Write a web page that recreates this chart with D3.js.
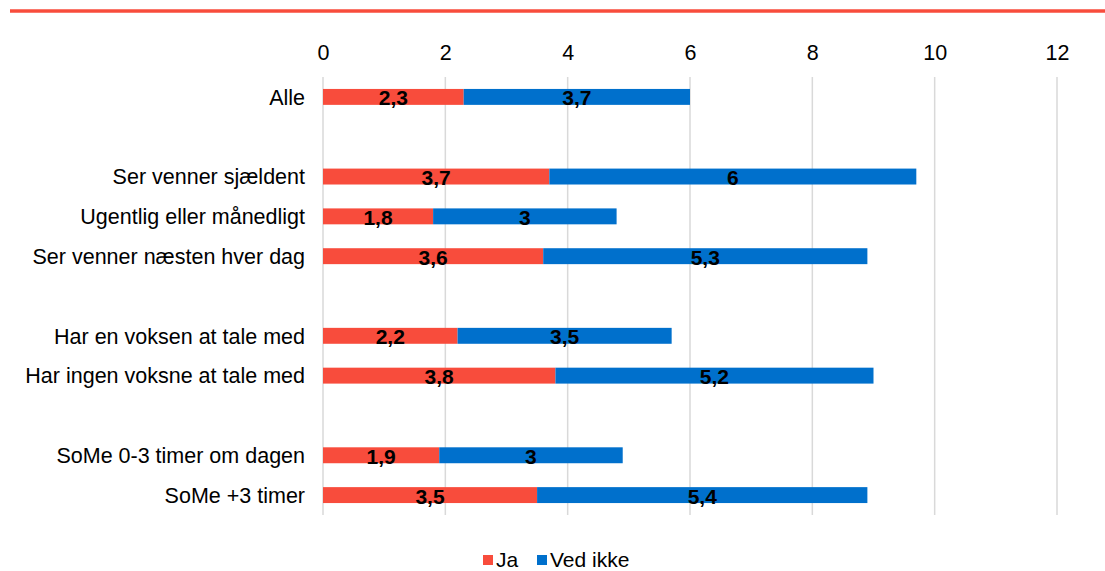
<!DOCTYPE html>
<html>
<head>
<meta charset="utf-8">
<script src="https://cdn.jsdelivr.net/npm/d3@7"></script>
<style>
    body { margin: 0; background: #fff; }
    #chart { width: 1105px; height: 571px; }
    text { font-family: "Liberation Sans", Arial, sans-serif; }
</style>
</head>
<body>
<div id="chart"></div>
<script>

// categories (empty strings are the gaps between groups)
let categories = ["Alle", "", "Ser venner sjældent", "Ugentlig eller månedligt", "Ser venner næsten hver dag", " ",
    "Har en voksen at tale med", "Har ingen voksne at tale med", "  ", "SoMe 0-3 timer om dagen", "SoMe +3 timer"];

// series values
let jaValues = [2.3, null, 3.7, 1.8, 3.6, null, 2.2, 3.8, null, 1.9, 3.5];
let vedIkkeValues = [3.7, null, 6, 3, 5.3, null, 3.5, 5.2, null, 3, 5.4];

let seriesNames = ["Ja", "Ved ikke"];
let tickValues = [0, 2, 4, 6, 8, 10, 12];


class BarVis {

    constructor(parentElement) {
        this.parentElement = parentElement;
        this.colors = ["#f84c3c", "#0070cc"];
        this.initVis();
    }

    initVis() {
        let vis = this;

        vis.width = 1105;
        vis.height = 571;

        vis.svg = d3.select("#" + vis.parentElement).append("svg")
            .attr("width", vis.width)
            .attr("height", vis.height);

        // red rule at the top
        vis.svg.append("line")
            .attr("x1", 10).attr("x2", vis.width)
            .attr("y1", 11).attr("y2", 11)
            .attr("stroke", vis.colors[0])
            .attr("stroke-width", 3.5);

        // scales
        vis.x = d3.scaleLinear()
            .domain([0, 12])
            .range([323, 1057]);

        vis.y = d3.scaleBand()
            .domain(categories)
            .range([77, 515])
            .paddingInner(0.6)
            .paddingOuter(0.3);

        // gridlines
        vis.svg.append("g")
            .selectAll("line")
            .data(tickValues)
            .enter().append("line")
            .attr("x1", d => vis.x(d)).attr("x2", d => vis.x(d))
            .attr("y1", 77).attr("y2", 515)
            .attr("stroke", "#d9d9d9")
            .attr("stroke-width", 1.5);

        // top axis labels
        vis.xAxis = d3.axisTop(vis.x)
            .tickValues(tickValues)
            .tickSize(0)
            .tickPadding(0);

        vis.svg.append("g")
            .attr("transform", "translate(0, 60)")
            .call(vis.xAxis)
            .call(g => g.select(".domain").remove())
            .selectAll("text")
            .attr("font-size", 21.5)
            .attr("fill", "#000")
            .attr("font-family", "Liberation Sans, Arial, sans-serif");

        // category labels
        vis.svg.append("g")
            .selectAll("text")
            .data(categories.filter(d => d.trim() !== ""))
            .enter().append("text")
            .attr("x", 305)
            .attr("y", d => vis.y(d) + vis.y.bandwidth() / 2)
            .attr("dy", "0.36em")
            .attr("text-anchor", "end")
            .attr("font-size", 21.5)
            .attr("fill", "#000")
            .text(d => d);

        vis.wrangleData();
    }

    wrangleData() {
        let vis = this;

        // stack the two series per row
        vis.displayData = [];
        categories.forEach((c, i) => {
            if (jaValues[i] == null) return;
            let start = 0;
            [jaValues[i], vedIkkeValues[i]].forEach((v, s) => {
                vis.displayData.push({category: c, series: s, x0: start, x1: start + v, value: v});
                start += v;
            });
        });

        vis.updateVis();
    }

    updateVis() {
        let vis = this;

        vis.svg.append("g")
            .selectAll("rect")
            .data(vis.displayData)
            .enter().append("rect")
            .attr("x", d => vis.x(d.x0))
            .attr("width", d => vis.x(d.x1) - vis.x(d.x0))
            .attr("y", d => vis.y(d.category))
            .attr("height", vis.y.bandwidth())
            .attr("fill", d => vis.colors[d.series]);

        // value labels
        vis.svg.append("g")
            .selectAll("text")
            .data(vis.displayData)
            .enter().append("text")
            .attr("x", d => (vis.x(d.x0) + vis.x(d.x1)) / 2)
            .attr("y", d => vis.y(d.category) + vis.y.bandwidth() / 2 + 1)
            .attr("dy", "0.36em")
            .attr("text-anchor", "middle")
            .attr("font-size", 21)
            .attr("font-weight", "bold")
            .attr("fill", "#000")
            .text(d => String(d.value).replace(".", ","));

        // legend (kept just inside the bottom edge)
        let legendX = [483, 537];
        let legend = vis.svg.append("g")
            .selectAll("g")
            .data(seriesNames)
            .enter().append("g")
            .attr("transform", (d, i) => `translate(${legendX[i]}, 555)`);

        legend.append("rect")
            .attr("width", 10).attr("height", 10)
            .attr("fill", (d, i) => vis.colors[i]);

        legend.append("text")
            .attr("x", 13)
            .attr("y", 5)
            .attr("dy", "0.34em")
            .attr("font-size", 21)
            .attr("fill", "#000")
            .text(d => d);
    }
}

new BarVis("chart");
</script>
</body>
</html>
